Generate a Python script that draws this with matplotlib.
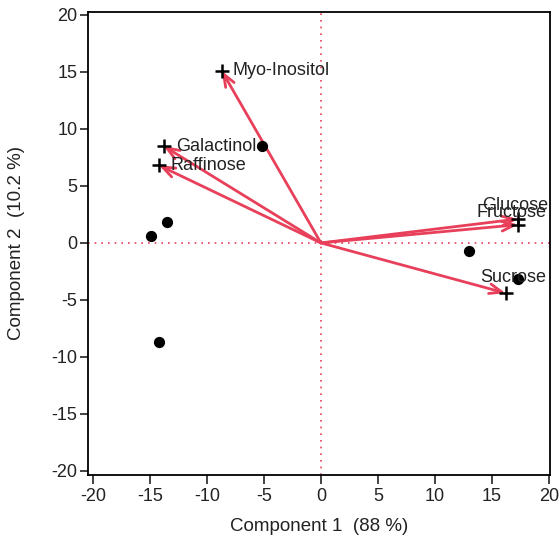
import matplotlib.pyplot as plt

plt.rcParams['font.family'] = ['Liberation Sans', 'DejaVu Sans']
plt.rcParams['axes.unicode_minus'] = False

# scores (black dots)
score_x = [-5.2, -14.9, -13.5, -14.2, 13.0, 17.3]
score_y = [8.5, 0.6, 1.8, -8.7, -0.75, -3.2]

# loadings (arrows + crosses)
names = ['Myo-Inositol', 'Galactinol', 'Raffinose', 'Glucose', 'Fructose', 'Sucrose']
load_x = [-8.7, -13.8, -14.2, 17.3, 17.3, 16.2]
load_y = [15.1, 8.5, 6.8, 2.1, 1.6, -4.4]
label_off = [(8, 0), (9, 0), (8.5, 0), (-26, 9.5), (-30, 9), (-18, 11.5)]

red = '#e8405a'
ink = '#222222'

fig = plt.figure(figsize=(5.6, 5.44), dpi=100)
ax = fig.add_axes((0.157, 0.127, 0.825, 0.851))

ax.axhline(0, color=red, ls=(0, (1, 3)), lw=1.2, zorder=1)
ax.axvline(0, color=red, ls=(0, (1, 3)), lw=1.2, zorder=1)

for lx, ly in zip(load_x, load_y):
    ax.annotate('', xy=(lx, ly), xytext=(0, 0),
                arrowprops=dict(arrowstyle='->,head_length=0.9,head_width=0.35',
                                color=red, lw=2, shrinkA=0, shrinkB=0), zorder=3)

ax.scatter(score_x, score_y, s=50, color='black', zorder=4)
ax.scatter(load_x, load_y, marker='+', s=110, color='black', linewidths=1.8, zorder=5)

for n, lx, ly, off in zip(names, load_x, load_y, label_off):
    ax.annotate(n, xy=(lx, ly), xytext=off, textcoords='offset points',
                fontsize=13, color=ink, va='center', ha='left', zorder=6)

ax.set_xlim(-20.44, 20.09)
ax.set_ylim(-20.35, 20.26)
ax.set_xticks(range(-20, 21, 5))
ax.set_yticks(range(-20, 21, 5))
ax.tick_params(axis='x', labelsize=13, colors=ink, length=6.5, width=1.2, pad=3)
ax.tick_params(axis='y', labelsize=13, colors=ink, length=6, width=1.2, pad=1.5)
for s in ax.spines.values():
    s.set_linewidth(1.3)
ax.set_xlabel('Component 1  (88 %)', fontsize=13.5, color=ink)
ax.set_ylabel('Component 2  (10.2 %)', fontsize=13.5, color=ink)
ax.xaxis.set_label_coords(0.5, -0.093)
ax.yaxis.set_label_coords(-0.136, 0.5)

fig.savefig('out.png', dpi=100)
